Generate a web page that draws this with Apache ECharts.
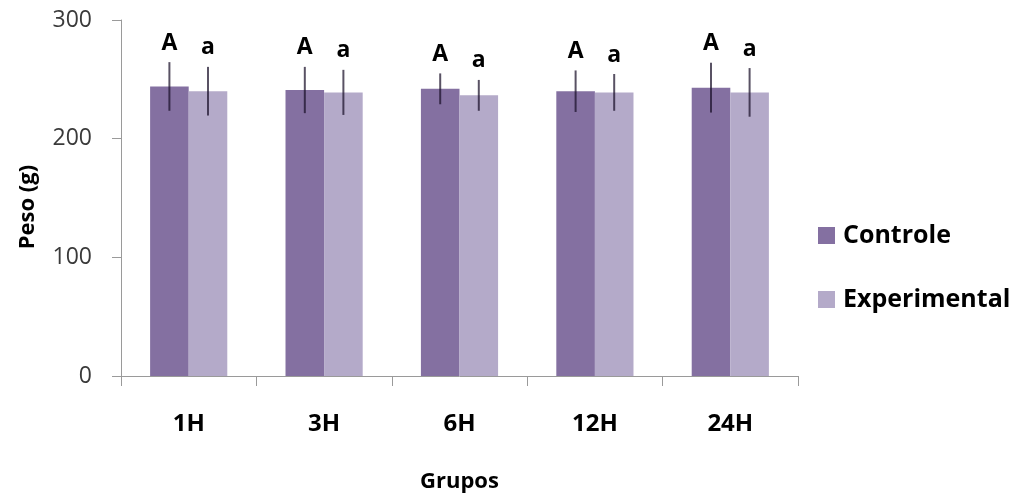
<!DOCTYPE html>
<html>
<head>
<meta charset="utf-8">
<script src="https://cdn.jsdelivr.net/npm/echarts@6/dist/echarts.min.js"></script>
<style>
  html, body { margin: 0; padding: 0; background: #ffffff; }
  #chart { width: 1025px; height: 498px; }
</style>
</head>
<body>
<div id="chart"></div>
<script>
// Body weight (g) per group, mean ± SD
const categories = ['1H', '3H', '6H', '12H', '24H'];
const controle = [244, 241, 242, 240, 243];
const experimental = [240, 239, 236.5, 239, 239];
const controleSD = [20.5, 19.5, 13, 17.5, 21];
const experimentalSD = [20.5, 19, 13, 15.5, 20.5];
const controleLetters = ['A', 'A', 'A', 'A', 'A'];
const experimentalLetters = ['a', 'a', 'a', 'a', 'a'];
const yTicks = [0, 100, 200, 300];

const FONT = '"Open Sans", sans-serif';
const COLOR_CONTROLE = '#8470a1';
const COLOR_EXPERIMENTAL = '#b4aac9';
const BAR_CATEGORY_GAP = 0.43;

// Error bar + significance letter drawn over a bar of the given series slot
function errorBarRenderer(means, sds, letters, slot) {
  return function (params, api) {
    const i = api.value(0);
    const mean = means[i];
    const sd = sds[i];
    const band = api.size([1, 0])[0];
    const barW = band * (1 - BAR_CATEGORY_GAP) / 2;
    const center = api.coord([i, mean]);
    const x = center[0] + (slot === 0 ? -barW / 2 : barW / 2);
    const top = api.coord([i, mean + sd])[1];
    const bottom = api.coord([i, mean - sd])[1];
    return {
      type: 'group',
      children: [
        {
          type: 'line',
          shape: { x1: x, y1: top, x2: x, y2: bottom },
          style: { stroke: 'rgba(25, 15, 40, 0.72)', lineWidth: 2 }
        },
        {
          type: 'text',
          x: x,
          y: top - 19,
          style: {
            text: letters[i],
            fill: '#000000',
            fontFamily: FONT,
            fontWeight: 'bold',
            fontSize: 23,
            align: 'center',
            verticalAlign: 'middle'
          }
        }
      ]
    };
  };
}

const chart = echarts.init(document.getElementById('chart'), null, { renderer: 'canvas' });

chart.setOption({
  animation: false,
  backgroundColor: '#ffffff',
  grid: { left: 121, right: 227, top: 20, bottom: 121, containLabel: false },
  legend: {
    orient: 'vertical',
    left: 818,
    top: 223,
    padding: 0,
    icon: 'rect',
    itemWidth: 17,
    itemHeight: 17,
    itemGap: 39,
    selectedMode: false,
    data: ['Controle', 'Experimental'],
    textStyle: {
      fontFamily: FONT,
      fontWeight: 'bold',
      fontSize: 25,
      color: '#000000',
      padding: [0, 0, 0, 3]
    }
  },
  xAxis: {
    type: 'category',
    data: categories,
    name: 'Grupos',
    nameLocation: 'middle',
    nameGap: 95,
    nameTextStyle: { fontFamily: FONT, fontWeight: 'bold', fontSize: 22, color: '#000000' },
    axisLine: { show: true, lineStyle: { color: '#9a9a9a', width: 1 } },
    axisTick: { show: true, length: 10, lineStyle: { color: '#9a9a9a' } },
    axisLabel: { margin: 36, fontFamily: FONT, fontWeight: 'bold', fontSize: 24, color: '#000000' },
    splitLine: { show: false }
  },
  yAxis: {
    type: 'value',
    min: yTicks[0],
    max: yTicks[yTicks.length - 1],
    interval: yTicks[1] - yTicks[0],
    name: 'Peso (g)',
    nameLocation: 'middle',
    nameGap: 82,
    nameRotate: 90,
    nameTextStyle: { fontFamily: FONT, fontWeight: 'bold', fontSize: 22, color: '#000000', padding: [0, 18, 0, 0] },
    axisLine: { show: true, lineStyle: { color: '#9a9a9a', width: 1 } },
    axisTick: { show: true, length: 9, lineStyle: { color: '#9a9a9a' } },
    axisLabel: { margin: 29, fontFamily: FONT, fontSize: 23, color: '#3a3a3a' },
    splitLine: { show: false }
  },
  series: [
    {
      name: 'Controle',
      type: 'bar',
      data: controle,
      barGap: '0%',
      barCategoryGap: (BAR_CATEGORY_GAP * 100) + '%',
      itemStyle: { color: COLOR_CONTROLE }
    },
    {
      name: 'Experimental',
      type: 'bar',
      data: experimental,
      barGap: '0%',
      barCategoryGap: (BAR_CATEGORY_GAP * 100) + '%',
      itemStyle: { color: COLOR_EXPERIMENTAL }
    },
    {
      type: 'custom',
      name: 'errControle',
      renderItem: errorBarRenderer(controle, controleSD, controleLetters, 0),
      data: categories.map((c, i) => [i]),
      encode: { x: 0 },
      z: 5,
      silent: true
    },
    {
      type: 'custom',
      name: 'errExperimental',
      renderItem: errorBarRenderer(experimental, experimentalSD, experimentalLetters, 1),
      data: categories.map((c, i) => [i]),
      encode: { x: 0 },
      z: 5,
      silent: true
    }
  ]
});
</script>
</body>
</html>
